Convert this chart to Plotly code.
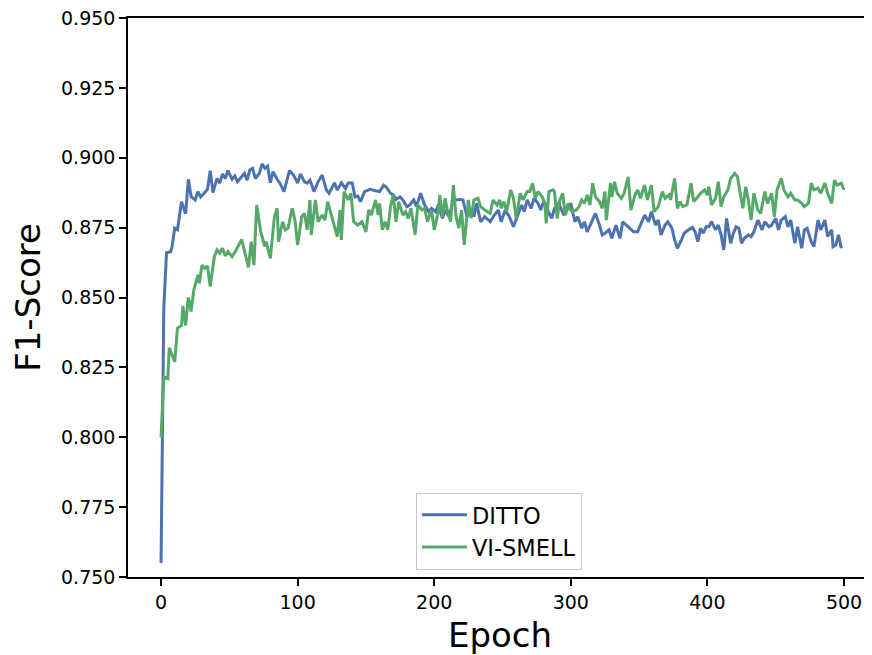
import plotly.graph_objects as go

# F1-score per epoch
ditto_epoch = [0, 2, 4, 7, 8, 10, 12, 15, 18, 20, 22, 25, 27, 29, 31, 34, 36, 38, 41, 43, 45, 47, 49,
               52, 54, 56, 59, 61, 63, 65, 67, 69, 72, 74, 76, 78, 80, 82, 85, 87, 90, 92, 94, 97,
               100, 102, 105, 107, 109, 112, 115, 118, 121, 123, 127, 129, 132, 135, 137, 140, 142,
               144, 146, 149, 153, 157, 160, 163, 165, 168, 170, 172, 175, 177, 180, 182, 185, 187,
               190, 193, 196, 198, 201, 203, 206, 208, 211, 214, 216, 219, 221, 224, 227, 229, 231,
               234, 237, 241, 244, 247, 249, 252, 255, 258, 261, 264, 266, 268, 271, 273, 276, 278,
               280, 283, 286, 288, 291, 295, 298, 300, 303, 305, 308, 310, 312, 315, 318, 321, 323,
               325, 328, 330, 333, 336, 338, 342, 346, 349, 352, 354, 357, 359, 362, 364, 366, 369,
               371, 374, 376, 378, 381, 383, 386, 389, 391, 393, 395, 397, 399, 401, 403, 406, 408,
               410, 412, 414, 417, 419, 421, 423, 425, 427, 430, 432, 434, 437, 440, 442, 445, 447,
               450, 452, 454, 457, 459, 461, 464, 466, 469, 471, 473, 476, 478, 481, 483, 486, 488,
               491, 492, 494, 496, 498]
ditto_f1 = [0.755, 0.846, 0.866, 0.8664, 0.868, 0.8748, 0.8742, 0.8843, 0.880, 0.8923, 0.8861, 0.8849,
            0.8879, 0.886, 0.887, 0.8887, 0.8954, 0.8875, 0.8926, 0.8909, 0.8942, 0.8926, 0.8954,
            0.8923, 0.8935, 0.8914, 0.8932, 0.8944, 0.892, 0.8956, 0.8962, 0.8926, 0.8944, 0.8978,
            0.8962, 0.897, 0.8911, 0.895, 0.8923, 0.8909, 0.8879, 0.8914, 0.8954, 0.8938,
            0.8909, 0.8942, 0.8914, 0.8909, 0.892, 0.8879, 0.8914, 0.8938, 0.8885, 0.8873, 0.891,
            0.8885, 0.891, 0.889, 0.891, 0.891, 0.886, 0.8863, 0.8843, 0.8879, 0.8887, 0.8882,
            0.8879, 0.8902, 0.8894, 0.8873, 0.8867, 0.8851, 0.886, 0.8849, 0.8825, 0.8831, 0.8849,
            0.8825, 0.8873, 0.8831, 0.8807, 0.8819, 0.8807, 0.8831, 0.8783, 0.8813, 0.8789, 0.8855,
            0.8849, 0.8851, 0.8849, 0.8789, 0.8819, 0.8789, 0.8837, 0.8771, 0.8789, 0.8771, 0.8795,
            0.8813, 0.8771, 0.8813, 0.8789, 0.8753, 0.8789, 0.8831, 0.8807, 0.8849, 0.8819, 0.8855,
            0.8837, 0.8813, 0.8843, 0.8813, 0.8783, 0.8819, 0.8837, 0.8795, 0.8819, 0.8837, 0.8771,
            0.8789, 0.8748, 0.8771, 0.8735, 0.8765, 0.8801, 0.8759, 0.8724, 0.873, 0.8742, 0.8712,
            0.8759, 0.8712, 0.8771, 0.8753, 0.8735, 0.8735, 0.8771, 0.8795, 0.8771, 0.8807, 0.8759,
            0.8777, 0.8724, 0.8759, 0.8771, 0.8748, 0.8706, 0.8676, 0.8706, 0.873, 0.8742, 0.8751,
            0.8735, 0.870, 0.8748, 0.873, 0.8753, 0.8753, 0.8771, 0.8742, 0.8759, 0.8724, 0.867,
            0.8783, 0.8694, 0.873, 0.8753, 0.8748, 0.8694, 0.8712, 0.8724, 0.8718, 0.8735, 0.8777,
            0.8742, 0.8771, 0.8753, 0.8759, 0.8783, 0.8742, 0.8777, 0.8789, 0.8753, 0.8777, 0.8694,
            0.8753, 0.8676, 0.8742, 0.8748, 0.870, 0.8682, 0.8777, 0.8742, 0.8777, 0.8718, 0.8742,
            0.8682, 0.8688, 0.8724, 0.8676]

vismell_epoch = [0, 2, 5, 6, 10, 12, 15, 16, 18, 20, 22, 24, 27, 28, 30, 32, 34, 36, 39, 41, 43, 45,
                 47, 49, 52, 55, 59, 61, 64, 66, 68, 70, 73, 76, 77, 80, 83, 85, 86, 89, 91, 93, 96,
                 98, 100, 103, 105, 107, 109, 110, 113, 115, 118, 120, 122, 125, 127, 129, 131, 132,
                 134, 137, 139, 141, 144, 147, 150, 152, 154, 157, 159, 160, 162, 164, 166, 168, 170,
                 172, 174, 177, 179, 181, 183, 186, 188, 191, 193, 195, 198, 200, 203, 204, 206, 208,
                 210, 212, 214, 216, 218, 220, 222, 225, 227, 229, 232, 234, 237, 241, 243, 246, 248,
                 249, 251, 253, 256, 258, 260, 263, 265, 268, 270, 272, 274, 276, 279, 281, 282, 284,
                 287, 288, 290, 292, 294, 296, 298, 299, 301, 304, 306, 308, 310, 312, 314, 316, 318,
                 321, 323, 325, 326, 329, 330, 332, 334, 337, 339, 342, 344, 347, 349, 351, 354, 356,
                 359, 361, 364, 367, 369, 372, 373, 376, 378, 380, 382, 385, 388, 390, 393, 395, 398,
                 400, 401, 403, 406, 408, 410, 412, 415, 417, 420, 422, 424, 426, 428, 430, 432, 434,
                 437, 439, 442, 444, 447, 449, 451, 454, 456, 459, 461, 464, 466, 469, 471, 474, 476,
                 478, 481, 483, 486, 488, 491, 493, 495, 498, 500]
vismell_f1 = [0.800, 0.8216, 0.821, 0.832, 0.827, 0.839, 0.840, 0.847, 0.840, 0.850, 0.845, 0.8527,
              0.8581, 0.8551, 0.8616, 0.8604, 0.8613, 0.8539, 0.8646, 0.867, 0.8658, 0.8676, 0.8649,
              0.8664, 0.8646, 0.867, 0.8708, 0.8664, 0.8608, 0.870, 0.8616, 0.8831, 0.8735, 0.8682,
              0.870, 0.864, 0.8789, 0.8819, 0.870, 0.8771, 0.8742, 0.8748, 0.8819, 0.8777, 0.8688,
              0.8789, 0.8801, 0.8742, 0.8849, 0.8724, 0.8849, 0.8771, 0.8795, 0.8777, 0.8843,
              0.8789, 0.8748, 0.8718, 0.8813, 0.8706, 0.8879, 0.8849, 0.8873, 0.8771, 0.8759,
              0.8771, 0.8735, 0.8813, 0.8795, 0.8849, 0.8795, 0.8837, 0.8742, 0.8771, 0.8742,
              0.8825, 0.8867, 0.8771, 0.8843, 0.8795, 0.8807, 0.8783, 0.8819, 0.8724, 0.8831,
              0.8813, 0.8819, 0.8771, 0.8813, 0.8742, 0.8807, 0.8867, 0.8789, 0.8855, 0.8801,
              0.8771, 0.8902, 0.8789, 0.8748, 0.8813, 0.8688, 0.8849, 0.8783, 0.8849, 0.8855,
              0.8825, 0.8813, 0.8801, 0.8849, 0.8831, 0.8849, 0.8819, 0.8843, 0.8807, 0.8885,
              0.8855, 0.8783, 0.8873, 0.8849, 0.8879, 0.8879, 0.8909, 0.8855, 0.8879, 0.886,
              0.8837, 0.8765, 0.8879, 0.8885, 0.8879, 0.8783, 0.8849, 0.8873, 0.8795, 0.8837,
              0.8819, 0.8807, 0.8813, 0.8825, 0.8849, 0.8837, 0.8867, 0.8831, 0.8909, 0.886,
              0.8843, 0.8819, 0.8879, 0.8777, 0.8909, 0.886, 0.8914, 0.8873, 0.8855, 0.8873,
              0.8932, 0.8813, 0.8867, 0.8885, 0.8855, 0.8902, 0.8849, 0.8902, 0.8807, 0.8825,
              0.8879, 0.8855, 0.8867, 0.8849, 0.8926, 0.8819, 0.8843, 0.8825, 0.8831, 0.8909,
              0.8843, 0.886, 0.8873, 0.8885, 0.8867, 0.8896, 0.8831, 0.8855, 0.8914, 0.8825,
              0.886, 0.8885, 0.8926, 0.8944, 0.8932, 0.8873, 0.8819, 0.8896, 0.8849, 0.8777,
              0.8873, 0.8813, 0.8801, 0.8879, 0.8837, 0.8873, 0.8789, 0.8885, 0.8926, 0.8885,
              0.886, 0.8873, 0.8849, 0.8849, 0.8837, 0.8825, 0.8837, 0.8909, 0.8885, 0.8891,
              0.8873, 0.8909, 0.8873, 0.8837, 0.892, 0.8902, 0.8909, 0.8885]

x_ticks = [0, 100, 200, 300, 400, 500]
y_ticks = [0.750, 0.775, 0.800, 0.825, 0.850, 0.875, 0.900, 0.925, 0.950]

font = "DejaVu Sans"

fig = go.Figure()
fig.add_trace(go.Scatter(x=ditto_epoch, y=ditto_f1, mode="lines", name="DITTO",
                         line=dict(color="#4c72b0", width=3)))
fig.add_trace(go.Scatter(x=vismell_epoch, y=vismell_f1, mode="lines", name="VI-SMELL",
                         line=dict(color="#55a868", width=3)))

# the page puts the figure 8px in from the top-left, so size and margins allow for that
fig.update_layout(
    width=864, height=647,
    margin=dict(l=120, r=0, t=10, b=78),
    plot_bgcolor="white", paper_bgcolor="white",
    font=dict(family=font, size=19, color="black"),
    legend=dict(x=0.387, y=0.082, xanchor="left", yanchor="middle", itemwidth=45,
                bordercolor="#cccccc", borderwidth=1, bgcolor="rgba(255,255,255,0.8)",
                font=dict(size=22.5)),
)
fig.update_xaxes(range=[-24.2, 520.5], tickvals=x_ticks, ticks="outside", ticklen=7, tickwidth=1.5,
                 tickcolor="black", showline=True, linecolor="black", linewidth=1.5, mirror=True,
                 showgrid=False, zeroline=False,
                 title=dict(text="Epoch", font=dict(size=34)))
fig.update_yaxes(range=[0.75, 0.95], tickvals=y_ticks, tickformat=".3f", ticks="outside", ticklen=7,
                 tickwidth=1.5, tickcolor="black", showline=True, linecolor="black", linewidth=1.5,
                 showgrid=False, zeroline=False, ticklabeloverflow="allow",
                 title=dict(text="F1-Score", font=dict(size=34), standoff=20))

fig.write_html("out.html")
